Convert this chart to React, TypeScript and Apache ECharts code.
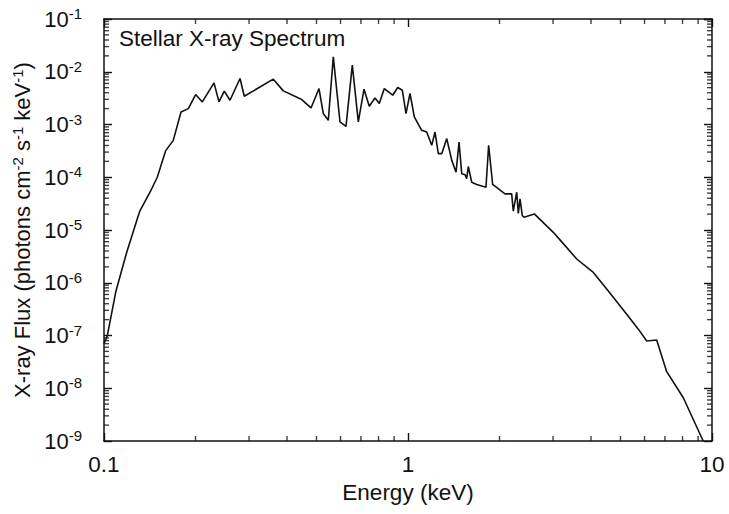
import React, { useEffect, useRef } from "react";
import * as echarts from "echarts";

const energyKeV = [0.1, 0.1025, 0.1095, 0.1188, 0.1297, 0.1314, 0.1417, 0.1497, 0.1596, 0.169, 0.1792, 0.1894, 0.2002, 0.2106, 0.2301, 0.2389, 0.2487, 0.2597, 0.2802, 0.2894, 0.3605, 0.3889, 0.447, 0.4797, 0.5096, 0.5265, 0.5468, 0.5679, 0.5974, 0.6253, 0.6558, 0.6863, 0.7166, 0.7458, 0.7787, 0.8046, 0.8356, 0.8906, 0.925, 0.9579, 0.9849, 1.0153, 1.0489, 1.109, 1.152, 1.197, 1.227, 1.258, 1.291, 1.341, 1.393, 1.439, 1.472, 1.502, 1.54, 1.56, 1.579, 1.62, 1.683, 1.805, 1.842, 1.899, 2.085, 2.193, 2.22, 2.278, 2.306, 2.336, 2.377, 2.408, 2.603, 3.006, 3.162, 3.589, 4.07, 4.504, 5.241, 5.724, 6.098, 6.577, 7.096, 8.047, 9.363];

const fluxValues = [7e-8, 9.8e-8, 7e-7, 3.8e-6, 1.88e-5, 2.34e-5, 5.2e-5, 1e-4, 3.2e-4, 5e-4, 1.73e-3, 2e-3, 3.7e-3, 2.68e-3, 6.15e-3, 2.68e-3, 4.28e-3, 2.88e-3, 7.46e-3, 3.44e-3, 7.23e-3, 4.34e-3, 2.97e-3, 2.06e-3, 4.81e-3, 1.61e-3, 1.2e-3, 1.92e-2, 1.12e-3, 9.2e-4, 1.335e-2, 1.12e-3, 4.67e-3, 2.22e-3, 3.19e-3, 2.5e-3, 4.8e-3, 3.59e-3, 5.03e-3, 4.47e-3, 1.61e-3, 3.87e-3, 1.4e-3, 7.76e-4, 7.2e-4, 4.03e-4, 7.2e-4, 2.8e-4, 2.8e-4, 5.4e-4, 2.09e-4, 1.25e-4, 4.65e-4, 1.17e-4, 1.12e-4, 9.36e-5, 1.6e-4, 8.07e-5, 7.3e-5, 6.48e-5, 4.03e-4, 7.3e-5, 4.85e-5, 4.85e-5, 2.27e-5, 5.2e-5, 2.07e-5, 3.9e-5, 1.88e-5, 1.74e-5, 2.02e-5, 9.04e-6, 6.5e-6, 2.82e-6, 1.57e-6, 7.59e-7, 2.54e-7, 1.32e-7, 7.89e-8, 8.24e-8, 2.06e-8, 6.6e-9, 9.9e-10];

const xTickLabels = ["0.1", "1", "10"];
const minorMultipliers = [2, 3, 4, 5, 6, 7, 8, 9];
const xDecades = [0.1, 1];
const yDecades = [1e-9, 1e-8, 1e-7, 1e-6, 1e-5, 1e-4, 1e-3, 1e-2];
const titleText = "Stellar X-ray Spectrum";
const xAxisName = "Energy (keV)";
const yAxisName = "X-ray Flux (photons cm{sup|-2} s{sup|-1} keV{sup|-1})";

const X_MIN = 0.1;
const X_MAX = 10;
const Y_MIN = 1e-9;
const Y_MAX = 0.1;

const FONT = "'Liberation Sans', Arial, Helvetica, sans-serif";
const INK = "#111";

export default function App() {
  const ref = useRef<HTMLDivElement>(null);
  useEffect(() => {
    if (!ref.current) return;
    const chart = echarts.init(ref.current, undefined, { renderer: "svg" });

    const xMinorVals: number[] = [];
    xDecades.forEach((d) => minorMultipliers.forEach((m) => xMinorVals.push(+(d * m).toPrecision(3))));
    const yMinorVals: number[] = [];
    yDecades.forEach((d) => minorMultipliers.forEach((m) => yMinorVals.push(+(d * m).toPrecision(3))));

    const minorLen = 5;
    const majorLen = 8;
    const tickW = 1.4;

    const tickSeries = (data: number[][], size: number[], offset: number[]) => ({
      type: "scatter",
      data,
      symbol: "rect",
      symbolSize: size,
      symbolOffset: offset,
      itemStyle: { color: INK },
      clip: false,
      silent: true,
    });

    const axisCommon = {
      type: "log" as const,
      logBase: 10,
      axisLine: { show: true, lineStyle: { color: INK, width: 1.5 } },
      axisTick: { show: true, inside: true, length: majorLen, lineStyle: { color: INK, width: tickW } },
      splitLine: { show: false },
    };

    const supStyle = { fontFamily: FONT, fontSize: 15, color: INK, verticalAlign: "top", padding: [0, 0, 9, 0] };

    chart.setOption({
      animation: false,
      backgroundColor: "#fff",
      title: {
        text: titleText,
        left: 114,
        top: 22,
        textStyle: { fontFamily: FONT, fontSize: 22.5, fontWeight: "normal", color: INK },
      },
      grid: { left: 104, right: 17, top: 19, bottom: 73 },
      xAxis: [
        {
          ...axisCommon,
          position: "bottom",
          min: X_MIN,
          max: X_MAX,
          splitNumber: 2,
          axisLabel: {
            margin: 12,
            fontFamily: FONT,
            fontSize: 22.5,
            color: INK,
            formatter: (_v: number, i: number) => xTickLabels[i] ?? "",
          },
          name: xAxisName,
          nameLocation: "middle",
          nameGap: 40,
          nameTextStyle: { fontFamily: FONT, fontSize: 22.5, color: INK },
        },
        {
          ...axisCommon,
          position: "top",
          min: X_MIN,
          max: X_MAX,
          splitNumber: 2,
          axisLabel: { show: false },
        },
      ],
      yAxis: [
        {
          ...axisCommon,
          position: "left",
          min: Y_MIN,
          max: Y_MAX,
          splitNumber: 8,
          axisLabel: {
            margin: 22,
            color: INK,
            formatter: (v: number) => `{b|10}{sup|${Math.round(Math.log10(v))}}`,
            rich: {
              b: { fontFamily: FONT, fontSize: 22, color: INK, lineHeight: 26 },
              sup: supStyle,
            },
          },
          name: yAxisName,
          nameLocation: "middle",
          nameGap: 65,
          nameTextStyle: {
            fontFamily: FONT,
            fontSize: 22,
            color: INK,
            rich: { sup: supStyle },
          },
        },
        {
          ...axisCommon,
          position: "right",
          min: Y_MIN,
          max: Y_MAX,
          splitNumber: 8,
          axisLabel: { show: false },
        },
      ],
      series: [
        {
          type: "line",
          data: energyKeV.map((e, i) => [e, fluxValues[i]]),
          showSymbol: false,
          symbol: "none",
          lineStyle: { color: INK, width: 1.6 },
          clip: true,
          silent: true,
        },
        tickSeries(xMinorVals.map((v) => [v, Y_MIN]), [tickW, minorLen], [0, -minorLen / 2]),
        tickSeries(xMinorVals.map((v) => [v, Y_MAX]), [tickW, minorLen], [0, minorLen / 2]),
        tickSeries(yMinorVals.map((v) => [X_MIN, v]), [minorLen, tickW], [minorLen / 2, 0]),
        tickSeries(yMinorVals.map((v) => [X_MAX, v]), [minorLen, tickW], [-minorLen / 2, 0]),
      ],
    });
    return () => chart.dispose();
  }, []);
  return <div ref={ref} style={{ width: 729, height: 514, position: "absolute", left: 0, top: 0 }} />;
}
